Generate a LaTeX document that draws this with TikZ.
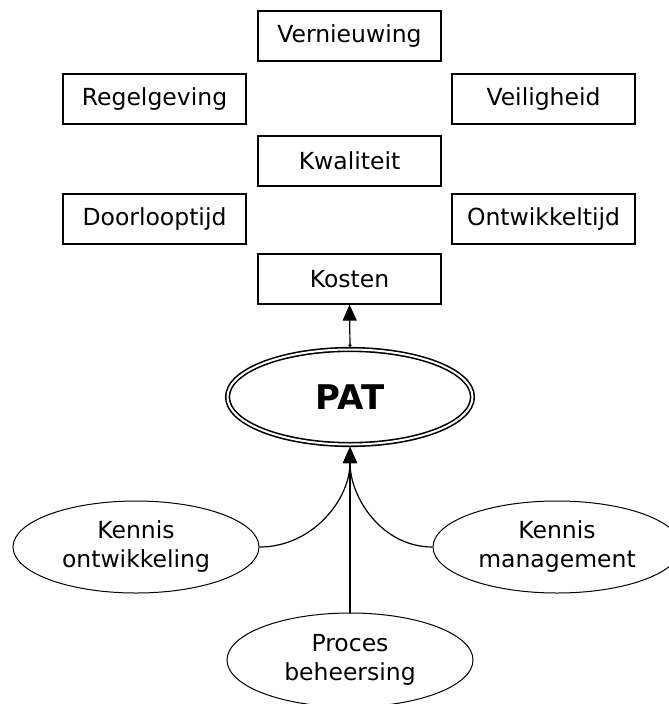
\documentclass[tikz,border=0pt]{standalone}
\usepackage{fontspec}
\setmainfont{DejaVu Sans}
\usetikzlibrary{arrows.meta,shapes.geometric}

\begin{document}
\begin{tikzpicture}[x=1pt, y=-1pt,
    box/.style={draw, line width=1.2pt, minimum width=183pt, minimum height=50pt, inner sep=0pt, font=\fontsize{23.5}{28}\selectfont},
    blob/.style={draw, ellipse, line width=1pt, minimum width=246pt, minimum height=92pt, inner sep=0pt, align=center, font=\fontsize{23.5}{29}\selectfont},
    tip/.style={-{Triangle[length=16pt,width=14pt]}, line width=1.2pt}]
    \clip (0,0) rectangle (669,704);
    % doelen
    \node[box] (vern) at (349.5, 36) {Vernieuwing};
    \node[box] (regel) at (154.5, 99) {Regelgeving};
    \node[box] (veilig) at (543.5, 99) {Veiligheid};
    \node[box] (kwal) at (349.5, 161) {Kwaliteit};
    \node[box] (door) at (154.5, 219) {Doorlooptijd};
    \node[box] (ontw) at (543.5, 219) {Ontwikkeltijd};
    \node[box] (kosten) at (349.5, 279) {Kosten};
    % kern
    \node[draw, ellipse, double, double distance=2pt, line width=1.6pt, outer sep=2.6pt, inner sep=0pt,
          minimum width=245pt, minimum height=95pt, font=\fontsize{34}{40}\selectfont\bfseries] (pat) at (350, 397) {PAT};
    % bronnen
    \node[blob] (ko) at (136, 547) {Kennis\\ontwikkeling};
    \node[blob, minimum width=248pt] (km) at (557, 547) {Kennis\\management};
    \node[blob, minimum height=94pt] (pb) at (350, 660) {Proces\\beheersing};

    \draw[tip] (ko.east) to[out=0, in=-90] (pat.south);
    \draw[tip] (km.west) to[out=180, in=-90] (pat.south);
    \draw[tip] (pb.north) -- (pat.south);
    \draw[line width=1.2pt, {Circle[open,length=3pt,width=3pt]}-{Triangle[length=16pt,width=14pt]}] (pat.north) -- (kosten.south);
\end{tikzpicture}
\end{document}
